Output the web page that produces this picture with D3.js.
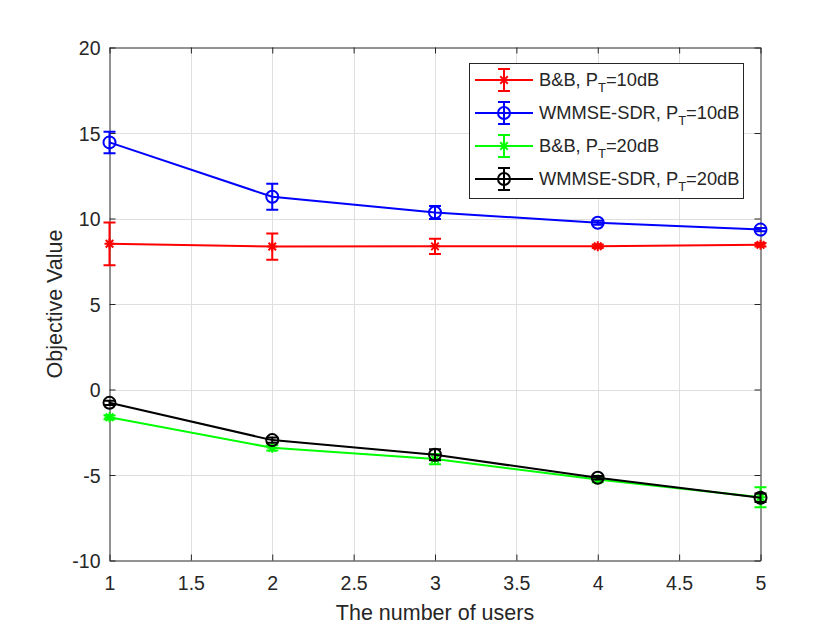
<!DOCTYPE html>
<html>
<head>
<meta charset="utf-8">
<script src="https://d3js.org/d3.v7.min.js"></script>
<style>
  body { margin: 0; background: #fff; }
  text { font-family: "Liberation Sans", Arial, sans-serif; fill: #262626; }
</style>
</head>
<body>
<svg width="840" height="630"></svg>
<script>
    // number of users
    const users = [1, 2, 3, 4, 5];

    // mean objective values
    const bbLow = [8.52, 8.36, 8.37, 8.38, 8.46];
    const wmmseLow = [14.45, 11.27, 10.35, 9.75, 9.35];
    const bbHigh = [-1.62, -3.41, -4.07, -5.27, -6.3];
    const wmmseHigh = [-0.78, -2.96, -3.82, -5.16, -6.33];

    // half-length of the error bars
    const bbLowErr = [1.25, 0.77, 0.45, 0.1, 0.1];
    const wmmseLowErr = [0.63, 0.76, 0.38, 0.12, 0.1];
    const bbHighErr = [0.12, 0.15, 0.3, 0.15, 0.58];
    const wmmseHighErr = [0.12, 0.15, 0.32, 0.1, 0.25];

    const seriesNames = ["B&B", "WMMSE-SDR", "B&B", "WMMSE-SDR"];
    const seriesPower = ["10dB", "10dB", "20dB", "20dB"];

    const xTicks = [1, 1.5, 2, 2.5, 3, 3.5, 4, 4.5, 5];
    const yTicks = [-10, -5, 0, 5, 10, 15, 20];

    const series = [
        {name: seriesNames[0], power: seriesPower[0], y: bbLow, err: bbLowErr, color: "#ff0000", marker: "star"},
        {name: seriesNames[1], power: seriesPower[1], y: wmmseLow, err: wmmseLowErr, color: "#0000ff", marker: "circle"},
        {name: seriesNames[2], power: seriesPower[2], y: bbHigh, err: bbHighErr, color: "#00ff00", marker: "star"},
        {name: seriesNames[3], power: seriesPower[3], y: wmmseHigh, err: wmmseHighErr, color: "#000000", marker: "circle"}
    ];

    const pLeft = 109.5, pRight = 760.5, pTop = 47.5, pBottom = 560.5;
    const axisColor = "#262626";

    const svg = d3.select("svg");

    const x = d3.scaleLinear().domain([1, 5]).range([pLeft, pRight]);
    const y = d3.scaleLinear().domain([-10, 20]).range([pBottom, pTop]);

    // grid
    const grid = svg.append("g").attr("stroke", "#dfdfdf").attr("stroke-width", 1);
    grid.selectAll("line.gx")
        .data(xTicks.slice(1, -1))
        .enter().append("line")
        .attr("x1", d => Math.round(x(d)) + 0.5).attr("x2", d => Math.round(x(d)) + 0.5)
        .attr("y1", pTop).attr("y2", pBottom);
    grid.selectAll("line.gy")
        .data(yTicks.slice(1, -1))
        .enter().append("line")
        .attr("y1", d => Math.round(y(d)) + 0.5).attr("y2", d => Math.round(y(d)) + 0.5)
        .attr("x1", pLeft).attr("x2", pRight);

    // axes, ticks pointing inward, box on
    const tickLen = 6;
    const xAxis = d3.axisBottom(x).tickValues(xTicks).tickSizeInner(-tickLen).tickSizeOuter(0).tickPadding(16)
        .tickFormat(d3.format(""));
    const xAxisTop = d3.axisTop(x).tickValues(xTicks).tickSizeInner(-tickLen).tickSizeOuter(0).tickFormat("");
    const yAxis = d3.axisLeft(y).tickValues(yTicks).tickSizeInner(-tickLen).tickSizeOuter(0).tickPadding(9)
        .tickFormat(d => d);
    const yAxisRight = d3.axisRight(y).tickValues(yTicks).tickSizeInner(-tickLen).tickSizeOuter(0).tickFormat("");

    function styleAxis(g) {
        g.select(".domain").attr("stroke", axisColor).attr("stroke-width", 1);
        g.selectAll(".tick line").attr("stroke", axisColor);
        g.selectAll(".tick text").attr("fill", axisColor)
            .style("font-family", "'Liberation Sans', Arial, sans-serif").style("font-size", "19.5px");
    }

    svg.append("g").attr("transform", "translate(0," + pBottom + ")").call(xAxis).call(styleAxis);
    svg.append("g").attr("transform", "translate(0," + pTop + ")").call(xAxisTop).call(styleAxis);
    svg.append("g").attr("transform", "translate(" + pLeft + ",0)").call(yAxis).call(styleAxis)
        .selectAll(".tick text").attr("dy", "0.36em");
    svg.append("g").attr("transform", "translate(" + pRight + ",0)").call(yAxisRight).call(styleAxis);

    // axis labels
    svg.append("text")
        .attr("x", (pLeft + pRight) / 2).attr("y", 620)
        .attr("text-anchor", "middle")
        .style("font-size", "21.5px")
        .text("The number of users");
    svg.append("text")
        .attr("transform", "translate(62," + (pTop + pBottom) / 2 + ") rotate(-90)")
        .attr("text-anchor", "middle")
        .style("font-size", "21.5px")
        .text("Objective Value");

    function drawMarker(g, kind, color, cx, cy) {
        if (kind === "circle") {
            g.append("circle").attr("cx", cx).attr("cy", cy).attr("r", 6)
                .attr("fill", "none").attr("stroke", color).attr("stroke-width", 2);
        } else {
            const s = 5;
            const p = d3.path();
            p.moveTo(cx - s, cy); p.lineTo(cx + s, cy);
            p.moveTo(cx, cy - s); p.lineTo(cx, cy + s);
            const d = s * 0.75;
            p.moveTo(cx - d, cy - d); p.lineTo(cx + d, cy + d);
            p.moveTo(cx - d, cy + d); p.lineTo(cx + d, cy - d);
            g.append("path").attr("d", p.toString())
                .attr("stroke", color).attr("stroke-width", 2).attr("fill", "none");
        }
    }

    function drawErrorBar(g, color, cx, yTop, yBot) {
        const cap = 6;
        const p = d3.path();
        p.moveTo(cx, yTop); p.lineTo(cx, yBot);
        p.moveTo(cx - cap, yTop); p.lineTo(cx + cap, yTop);
        p.moveTo(cx - cap, yBot); p.lineTo(cx + cap, yBot);
        g.append("path").attr("d", p.toString())
            .attr("stroke", color).attr("stroke-width", 2).attr("fill", "none");
    }

    const line = d3.line().x((d, i) => x(users[i])).y(d => y(d));

    const plot = svg.append("g");
    series.forEach(s => {
        const g = plot.append("g");
        g.append("path")
            .attr("d", line(s.y))
            .attr("fill", "none")
            .attr("stroke", s.color)
            .attr("stroke-width", 2);
        s.y.forEach((v, i) => {
            drawErrorBar(g, s.color, x(users[i]), y(v + s.err[i]), y(v - s.err[i]));
            drawMarker(g, s.marker, s.color, x(users[i]), y(v));
        });
    });

    // legend
    const lg = svg.append("g");
    lg.append("rect")
        .attr("x", 469.5).attr("y", 63.5).attr("width", 274).attr("height", 135)
        .attr("fill", "#fff").attr("stroke", axisColor).attr("stroke-width", 1);
    series.forEach((s, i) => {
        const ly = 80 + i * 33;
        const row = lg.append("g");
        row.append("line").attr("x1", 475).attr("x2", 533).attr("y1", ly).attr("y2", ly)
            .attr("stroke", s.color).attr("stroke-width", 2);
        drawErrorBar(row, s.color, 504, ly - 11, ly + 11);
        drawMarker(row, s.marker, s.color, 504, ly);
        const t = row.append("text")
            .attr("x", 539).attr("y", ly + 6)
            .style("font-size", "18.3px")
            .attr("fill", "#000");
        t.append("tspan").text(s.name + ", P");
        t.append("tspan").attr("dy", 6).style("font-size", "13px").text("T");
        t.append("tspan").attr("dy", -6).text("=" + s.power);
    });
</script>
</body>
</html>
